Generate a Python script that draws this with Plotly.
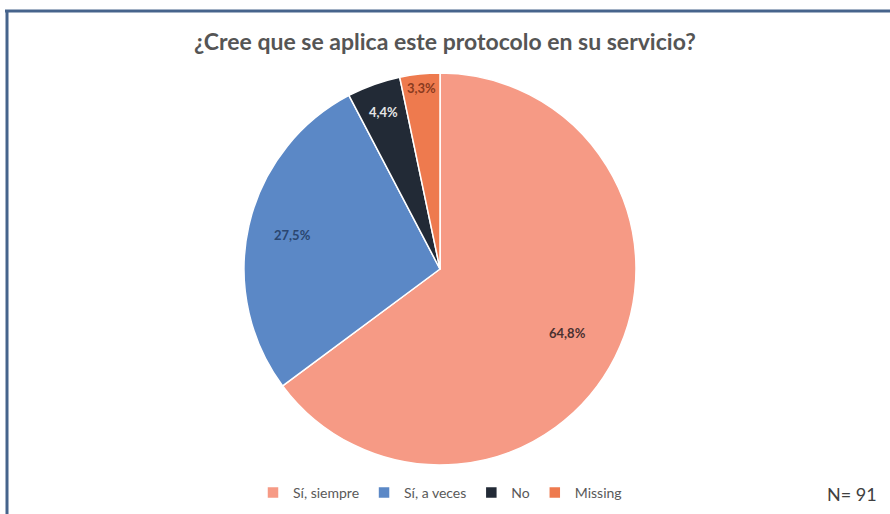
import math
import plotly.graph_objects as go

categories = ["Sí, siempre", "Sí, a veces", "No", "Missing"]
counts = [59, 25, 4, 3]
slice_colors = ["#F69A85", "#5B88C6", "#222A36", "#EE7A4E"]
label_colors = ["#4A3030", "#2A4670", "#E6E6E6", "#8A3A1E"]
label_radius = [0.73, 0.77, 0.85, 0.93]  # fraction of pie radius where each label sits
title_text = "¿Cree que se aplica este protocolo en su servicio?"
n_text = "N= 91"

W, H = 890, 514
CX, CY, R = 440, 269, 196

def px_x(x):
    return x / W

def px_y(y):
    return 1 - y / H

fig = go.Figure(go.Pie(
    labels=categories,
    values=counts,
    sort=False,
    direction="clockwise",
    rotation=0,
    marker=dict(colors=slice_colors, line=dict(color="white", width=1.5)),
    textinfo="none",
    domain=dict(x=[px_x(CX - R), px_x(CX + R)], y=[px_y(CY + R), px_y(CY - R)]),
    hoverinfo="label+percent",
))

# percentage labels placed at each slice's mid-angle (derived from the data)
total = sum(counts)
annotations = []
cum = 0
for v, col, rf in zip(counts, label_colors, label_radius):
    frac_mid = (cum + v / 2) / total
    cum += v
    ang = 2 * math.pi * frac_mid
    x = CX + rf * R * math.sin(ang)
    y = CY - rf * R * math.cos(ang)
    pct = f"{100 * v / total:.1f}".replace(".", ",") + "%"
    annotations.append(dict(
        text=pct, x=px_x(x), y=px_y(y), xref="paper", yref="paper",
        xanchor="center", yanchor="middle", showarrow=False,
        font=dict(family="Lato", size=13, color=col, weight="bold")))

annotations += [
    dict(text=title_text, x=px_x(445), y=px_y(41), xref="paper", yref="paper",
         xanchor="center", yanchor="middle", showarrow=False,
         font=dict(family="Lato", size=23, color="#555555", weight="bold")),
    dict(text=n_text, x=px_x(879), y=px_y(494), xref="paper", yref="paper",
         xanchor="right", yanchor="middle", showarrow=False,
         font=dict(family="Lato", size=18, color="#404040")),
]

fig.update_layout(
    width=W, height=H,
    margin=dict(l=0, r=0, t=0, b=0),
    paper_bgcolor="white",
    plot_bgcolor="white",
    separators=",.",
    showlegend=True,
    legend=dict(
        orientation="h",
        x=px_x(440), xanchor="center",
        y=px_y(493), yanchor="middle",
        font=dict(family="Lato", size=14, color="#595959"),
        itemwidth=30,
        tracegroupgap=0,
    ),
    annotations=annotations,
    shapes=[
        dict(type="line", xref="paper", yref="paper",
             x0=px_x(5), x1=1, y0=px_y(11), y1=px_y(11),
             line=dict(color="#46648C", width=3)),
        dict(type="line", xref="paper", yref="paper",
             x0=px_x(7), x1=px_x(7), y0=px_y(10), y1=0,
             line=dict(color="#46648C", width=3)),
    ],
)

fig.write_html("out.html")
